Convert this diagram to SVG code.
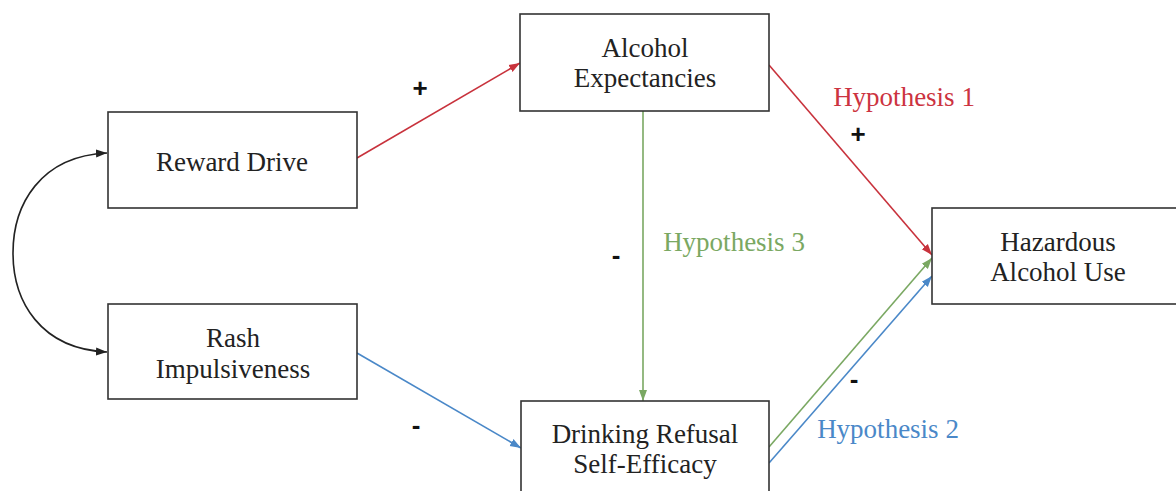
<svg xmlns="http://www.w3.org/2000/svg" width="1176" height="491" viewBox="0 0 1176 491">
<style>
.box{fill:#fff;stroke:#333;stroke-width:1.6}
.lbl{font-family:"Liberation Serif","Times New Roman",serif;font-size:27px;fill:#222;text-anchor:middle}
.hyp{font-family:"Liberation Serif","Times New Roman",serif;font-size:27px;text-anchor:middle}
.sign{font-family:"Liberation Sans",Arial,sans-serif;font-size:26px;font-weight:bold;fill:#111;text-anchor:middle}
.red{stroke:#c8323c;stroke-width:1.6;fill:none}
.green{stroke:#7aa862;stroke-width:1.6;fill:none}
.blue{stroke:#4a88c8;stroke-width:1.6;fill:none}
.black{stroke:#222;stroke-width:1.6;fill:none}
</style>
<defs>
<marker id="ar" markerUnits="userSpaceOnUse" markerWidth="12" markerHeight="10" refX="11" refY="5" orient="auto"><path d="M0,1 L11,5 L0,9 Z" fill="#c8323c"/></marker>
<marker id="ag" markerUnits="userSpaceOnUse" markerWidth="12" markerHeight="10" refX="11" refY="5" orient="auto"><path d="M0,1 L11,5 L0,9 Z" fill="#7aa862"/></marker>
<marker id="ab" markerUnits="userSpaceOnUse" markerWidth="12" markerHeight="10" refX="11" refY="5" orient="auto"><path d="M0,1 L11,5 L0,9 Z" fill="#4a88c8"/></marker>
<marker id="ak" markerUnits="userSpaceOnUse" markerWidth="12" markerHeight="10" refX="11" refY="5" orient="auto"><path d="M0,1 L11,5 L0,9 Z" fill="#222"/></marker>
<marker id="aks" markerUnits="userSpaceOnUse" markerWidth="12" markerHeight="10" refX="11" refY="5" orient="auto-start-reverse"><path d="M0,1 L11,5 L0,9 Z" fill="#222"/></marker>
</defs>
<rect width="1176" height="491" fill="#fff"/>
<g id="connectors">
<path class="black" d="M107,153 C40,156 13,205 13,253 C13,301 40,349 107,352" marker-start="url(#aks)" marker-end="url(#ak)"/>
<line class="red" x1="357" y1="158" x2="520" y2="63" marker-end="url(#ar)"/>
<line class="red" x1="769" y1="65" x2="932" y2="255" marker-end="url(#ar)"/>
<line class="green" x1="643" y1="111" x2="643" y2="401" marker-end="url(#ag)"/>
<line class="green" x1="769" y1="447" x2="932" y2="258" marker-end="url(#ag)"/>
<line class="blue" x1="769" y1="463" x2="932" y2="276" marker-end="url(#ab)"/>
<line class="blue" x1="357" y1="353" x2="521" y2="448" marker-end="url(#ab)"/>
</g>
<g id="reward-drive">
<rect class="box" x="108" y="112" width="249" height="96"/>
<text class="lbl" x="232" y="171">Reward Drive</text>
</g>
<g id="rash-impulsiveness">
<rect class="box" x="108" y="304" width="249" height="95"/>
<text class="lbl" x="233" y="347">Rash</text>
<text class="lbl" x="233" y="378">Impulsiveness</text>
</g>
<g id="alcohol-expectancies">
<rect class="box" x="520" y="14" width="249" height="97"/>
<text class="lbl" x="645" y="57">Alcohol</text>
<text class="lbl" x="645" y="87">Expectancies</text>
</g>
<g id="drinking-refusal">
<rect class="box" x="521" y="401" width="248" height="96"/>
<text class="lbl" x="645" y="443">Drinking Refusal</text>
<text class="lbl" x="645" y="473">Self-Efficacy</text>
</g>
<g id="hazardous-use">
<rect class="box" x="932" y="208" width="250" height="96"/>
<text class="lbl" x="1058" y="251">Hazardous</text>
<text class="lbl" x="1058" y="281">Alcohol Use</text>
</g>
<g id="labels">
<text class="hyp" x="904" y="106" fill="#cc3340">Hypothesis 1</text>
<text class="hyp" x="734" y="251" fill="#7aa862">Hypothesis 3</text>
<text class="hyp" x="888" y="438" fill="#4a88c8">Hypothesis 2</text>
<text class="sign" x="420" y="97">+</text>
<text class="sign" x="858" y="143">+</text>
<text class="sign" x="616" y="264">-</text>
<text class="sign" x="854" y="388">-</text>
<text class="sign" x="416" y="434">-</text>
</g>
</svg>
